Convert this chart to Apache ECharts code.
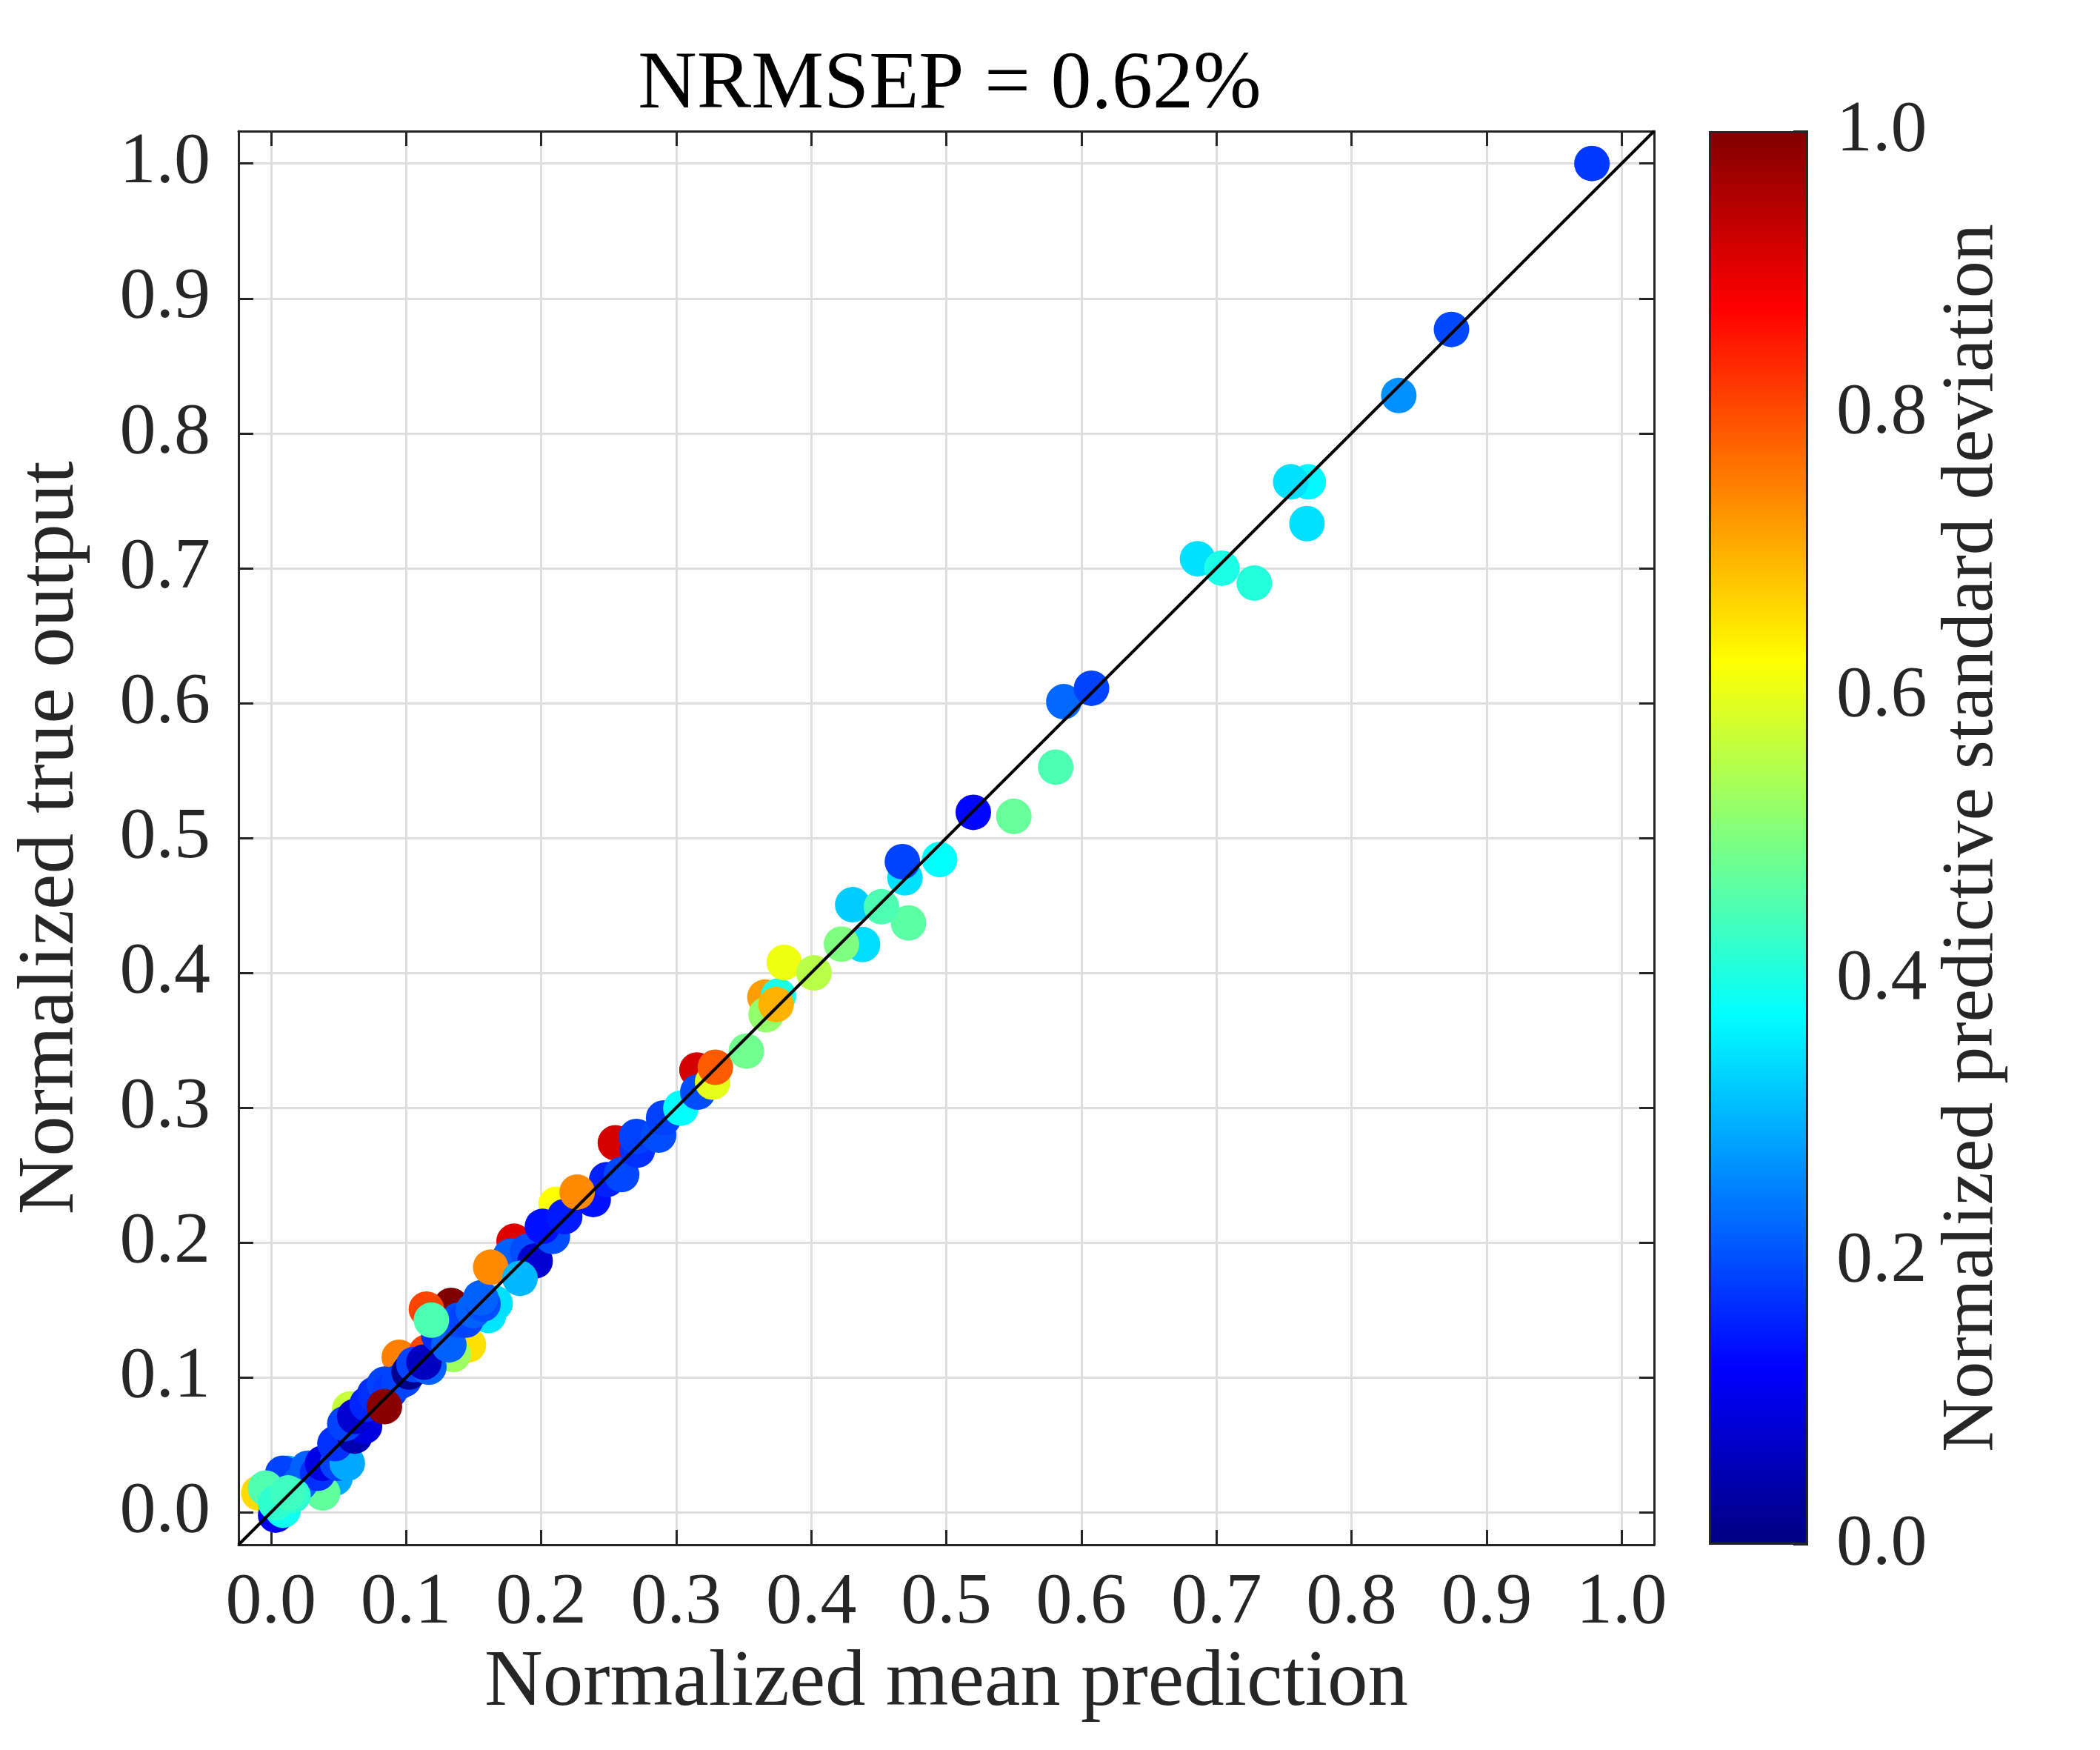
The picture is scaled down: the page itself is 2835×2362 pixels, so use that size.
<!DOCTYPE html>
<html>
<head>
<meta charset="utf-8">
<script src="https://cdn.jsdelivr.net/npm/echarts@6/dist/echarts.min.js"></script>
<style>
  html, body { margin: 0; padding: 0; background: #fff; }
  #chart { width: 2835px; height: 2362px; }
</style>
</head>
<body>
<div id="chart"></div>
<script>
// normalized mean prediction (x), true output (y), predictive std (colour)
var predX = [
  0.3657, 0.2111, 0.180, 0.1334, 0.1151, 0.095, 0.1151, 0.1462, 0.135, 0.0583,
  0.0474, 0.0383, 0.0126, -0.009, 0.060, 0.161, 0.166, 0.255, 0.3154, 0.768,
  0.686, 0.587, 0.3757,
  0.0088, 0.0273, 0.0218, 0.0346, 0.0383, 0.0493, 0.0565, 0.0474, 0.062, 0.0693,
  0.0547, 0.062, 0.0712, 0.0767, 0.084, 0.088, 0.095, 0.0986, 0.1023, 0.1059,
  0.1169, 0.1133, 0.1243, 0.1317, 0.139, 0.1443, 0.1498, 0.157, 0.1553, 0.1773,
  0.190, 0.1956, 0.2084, 0.201, 0.2175, 0.2386, 0.2486, 0.2596, 0.2713, 0.2706,
  0.287, 0.2907, 0.3035, 0.316,
  -0.004, 0.0035, 0.009, 0.0035, 0.0163, 0.0126,
  0.084, 0.1188, 0.1627, 0.1844, 0.2267, 0.327, 0.329, 0.352, 0.3666, 0.374,
  0.380, 0.402, 0.438, 0.4224, 0.472, 0.4307, 0.452, 0.4694, 0.4675, 0.495,
  0.520, 0.550, 0.581, 0.6075, 0.728, 0.704, 0.767, 0.755, 0.835, 0.874, 0.978
];
var trueY = [
  0.382, 0.2284, 0.201, 0.1534, 0.1507, 0.115, 0.1187, 0.1242, 0.117, 0.0766,
  0.0254, 0.0144, 0.029, 0.0144, 0.0583, 0.146, 0.155, 0.274, 0.328, 0.764,
  0.707, 0.601, 0.3829,
  0.029, 0.0327, 0.0219, 0.029, 0.0364, 0.0364, 0.0364, 0.051, 0.0565, 0.0638,
  0.0657, 0.0711, 0.0803, 0.0876, 0.095, 0.090, 0.0968, 0.0986, 0.1041, 0.1096,
  0.1077, 0.1114, 0.1315, 0.1242, 0.1426, 0.1425, 0.1497, 0.1545, 0.159, 0.190,
  0.1936, 0.1864, 0.2046, 0.212, 0.2193, 0.232, 0.2467, 0.2505, 0.2686, 0.2787,
  0.2797, 0.2924, 0.2997, 0.3116,
  0.018, -0.002, 0.0016, 0.0071, 0.0126, 0.0144,
  0.0784, 0.1425, 0.1818, 0.1735, 0.2375, 0.319, 0.330, 0.342, 0.369, 0.3765,
  0.4077, 0.400, 0.421, 0.4213, 0.437, 0.4505, 0.449, 0.4705, 0.4824, 0.484,
  0.519, 0.516, 0.5525, 0.611, 0.689, 0.700, 0.733, 0.764, 0.828, 0.877, 1.000
];
var sigma = [
  0.72, 0.625, 0.905, 1.0, 0.81, 0.75, 0.81, 0.655, 0.53, 0.57,
  0.29, 0.47, 0.313, 0.66, 0.33, 0.35, 0.344, 0.917, 0.917, 0.37,
  0.344, 0.227, 0.40,
  0.19, 0.22, 0.22, 0.17, 0.10, 0.19, 0.29, 0.172, 0.047, 0.095,
  0.19, 0.08, 0.16, 0.17, 0.19, 0.18, 0.19, 0.19, 0.016, 0.19,
  0.22, 0.063, 0.17, 0.22, 0.2, 0.19, 0.22, 0.2, 0.22, 0.22,
  0.2, 0.08, 0.2, 0.14, 0.15, 0.14, 0.156, 0.195, 0.172, 0.1875,
  0.2, 0.1875, 0.375, 0.2,
  0.453, 0.11, 0.39, 0.42, 0.42, 0.437,
  0.99, 0.45, 0.74, 0.305, 0.74, 0.6, 0.787, 0.485, 0.52, 0.70,
  0.61, 0.555, 0.342, 0.5, 0.465, 0.325, 0.45, 0.344, 0.19, 0.375,
  0.13, 0.475, 0.45, 0.19, 0.41, 0.40, 0.344, 0.344, 0.266, 0.195, 0.18
];
var tickVals = [0, 0.1, 0.2, 0.3, 0.4, 0.5, 0.6, 0.7, 0.8, 0.9, 1.0];
var axisLim = [-0.024, 1.024];
var jetStops = [[0, '#000080'], [0.125, '#0000ff'], [0.375, '#00ffff'],
                [0.625, '#ffff00'], [0.875, '#ff0000'], [1, '#800000']];
var jetEven = ['#000080', '#0000ff', '#0080ff', '#00ffff', '#80ff80',
               '#ffff00', '#ff8000', '#ff0000', '#800000'];

var pts = [];
for (var i = 0; i < predX.length; i++) {
    pts.push([predX[i], trueY[i], sigma[i]]);
}

var ink = '#262626';
var serif = '"Liberation Serif", "DejaVu Serif", serif';
var fmt = function (v) { return (+v).toFixed(1); };

function valAxis(pos, grid, showLabel, name) {
    return {
        type: 'value',
        gridIndex: grid,
        position: pos,
        min: axisLim[0],
        max: axisLim[1],
        name: name || '',
        nameLocation: 'middle',
        nameTextStyle: { fontFamily: serif, fontSize: 109, color: ink },
        axisLine: { show: true, onZero: false, lineStyle: { color: ink, width: 3 } },
        axisTick: { show: true, inside: true, length: 20, customValues: tickVals,
                    lineStyle: { color: ink, width: 3 } },
        axisLabel: { show: showLabel, customValues: tickVals, formatter: fmt,
                     fontFamily: serif, fontSize: 98, color: ink, margin: 30 },
        splitLine: { show: showLabel, lineStyle: { color: '#dedede', width: 3 } }
    };
}

var xMain = valAxis('bottom', 0, true, 'Normalized mean prediction');
xMain.nameGap = 104;
var yMain = valAxis('left', 0, true, 'Normalized true output');
yMain.nameGap = 198;
yMain.axisLabel.margin = 38;

var myChart = echarts.init(document.getElementById('chart'));
var option = {
    animation: false,
    backgroundColor: '#ffffff',
    title: {
        text: 'NRMSEP = 0.62%',
        left: 1277,
        top: 56,
        textAlign: 'center',
        textStyle: { fontFamily: serif, fontSize: 110, fontWeight: 'normal', color: '#000' }
    },
    grid: [
        { left: 322, right: 602, top: 177, bottom: 277 },
        { left: 2307, width: 134, top: 177, bottom: 277 }
    ],
    xAxis: [
        xMain,
        valAxis('top', 0, false),
        { type: 'category', gridIndex: 1, data: ['std'], show: false }
    ],
    yAxis: [
        yMain,
        valAxis('right', 0, false),
        {
            type: 'value', gridIndex: 1, position: 'right', min: 0, max: 1, interval: 0.2,
            name: 'Normalized predictive standard deviation',
            nameLocation: 'middle', nameRotate: 90, nameGap: 172,
            nameTextStyle: { fontFamily: serif, fontSize: 100, color: ink },
            axisLine: { show: false },
            axisTick: { show: true, inside: true, length: 20, lineStyle: { color: ink, width: 2 } },
            axisLabel: { formatter: fmt, fontFamily: serif, fontSize: 98, color: ink, margin: 38 },
            splitLine: { show: false }
        }
    ],
    visualMap: {
        show: false,
        type: 'continuous',
        seriesIndex: 0,
        dimension: 2,
        min: 0,
        max: 1,
        inRange: { color: jetEven }
    },
    series: [
        {
            type: 'scatter',
            xAxisIndex: 0,
            yAxisIndex: 0,
            symbol: 'circle',
            symbolSize: 48,
            itemStyle: { opacity: 1 },
            data: pts,
            z: 2
        },
        {
            type: 'line',
            xAxisIndex: 0,
            yAxisIndex: 0,
            data: [[axisLim[0], axisLim[0]], [axisLim[1], axisLim[1]]],
            symbol: 'none',
            lineStyle: { color: '#000', width: 4 },
            z: 3
        },
        {
            type: 'bar',
            xAxisIndex: 2,
            yAxisIndex: 2,
            data: [1],
            barWidth: '100%',
            itemStyle: {
                color: new echarts.graphic.LinearGradient(0, 1, 0, 0,
                    jetStops.map(function (s) { return { offset: s[0], color: s[1] }; })),
                borderColor: ink,
                borderWidth: 3
            }
        }
    ]
};
myChart.setOption(option);
</script>
</body>
</html>
